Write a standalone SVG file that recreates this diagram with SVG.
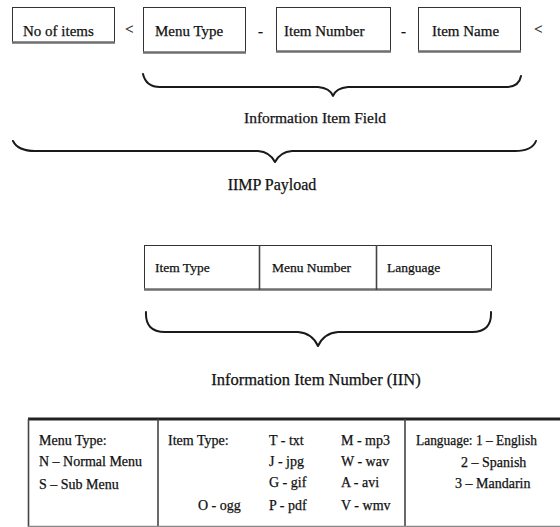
<svg xmlns="http://www.w3.org/2000/svg" width="560" height="527" viewBox="0 0 560 527">
  <style>
    text { font-family: "Liberation Serif", "Times New Roman", serif; fill: #111; stroke: #111; stroke-width: 0.25; }
    .lbl { font-size: 15px; }
    .cell { font-size: 13.5px; }
    .small { font-size: 14px; }
    .cap { font-size: 15.5px; text-anchor: middle; }
    .box { fill: #fff; stroke: #333; stroke-width: 1; }
    .shadow { stroke: #6e6e6e; stroke-width: 2.5; fill: none; }
    .brace { fill: none; stroke: #1a1a1a; stroke-width: 2; stroke-linejoin: round; stroke-linecap: round; }
    .rule { stroke: #444; stroke-width: 1.6; fill: none; }
  </style>

  <!-- IIMP payload fields -->
  <g id="no-of-items">
    <rect class="box" x="12.5" y="7.5" width="102" height="35"/>
    <line class="shadow" x1="12" y1="42.5" x2="115" y2="42.5"/>
    <text class="lbl" x="23" y="36">No of items</text>
  </g>
  <g id="sep-1"><text class="lbl" x="125" y="34">&lt;</text></g>
  <g id="menu-type">
    <rect class="box" x="143.5" y="7.5" width="102" height="45"/>
    <line class="shadow" x1="143" y1="52.5" x2="246" y2="52.5"/>
    <text class="lbl" x="155" y="36">Menu Type</text>
  </g>
  <g id="sep-2"><text class="lbl" x="258" y="36">-</text></g>
  <g id="item-number">
    <rect class="box" x="276.5" y="7.5" width="114" height="44"/>
    <line class="shadow" x1="276" y1="51.5" x2="391" y2="51.5"/>
    <text class="lbl" x="284" y="36">Item Number</text>
  </g>
  <g id="sep-3"><text class="lbl" x="401" y="36">-</text></g>
  <g id="item-name">
    <rect class="box" x="418.5" y="7.5" width="102" height="44"/>
    <line class="shadow" x1="418" y1="51.5" x2="521" y2="51.5"/>
    <text class="lbl" x="432" y="36">Item Name</text>
  </g>
  <g id="sep-4"><text class="lbl" x="534" y="34">&lt;</text></g>

  <!-- Information Item Number table -->
  <g id="iin-table">
    <rect class="box" x="144.5" y="245.5" width="347" height="44"/>
    <line class="shadow" x1="144" y1="289.5" x2="492" y2="289.5"/>
    <line class="rule" x1="259.5" y1="245" x2="259.5" y2="290"/>
    <line class="rule" x1="376.5" y1="245" x2="376.5" y2="290"/>
    <text class="cell" x="155" y="272">Item Type</text>
    <text class="cell" x="272" y="272">Menu Number</text>
    <text class="cell" x="387" y="272">Language</text>
  </g>

  <!-- Legend table -->
  <g id="legend">
    <line stroke="#222" stroke-width="3" x1="28" y1="419" x2="560" y2="419"/>
    <line class="rule" x1="28.5" y1="419" x2="28.5" y2="527"/>
    <line class="rule" x1="158" y1="419" x2="158" y2="527"/>
    <line class="rule" x1="405" y1="419" x2="405" y2="527"/>
    <line stroke="#888" stroke-width="1.5" x1="28" y1="526.5" x2="560" y2="526.5"/>
    <text class="small" x="39" y="445">Menu Type:</text>
    <text class="small" x="39" y="466">N – Normal Menu</text>
    <text class="small" x="39" y="489">S – Sub Menu</text>
    <text class="small" x="168" y="445">Item Type:</text>
    <text class="small" x="198" y="510">O - ogg</text>
    <text class="small" x="269" y="445">T - txt</text>
    <text class="small" x="269" y="466">J - jpg</text>
    <text class="small" x="269" y="487">G - gif</text>
    <text class="small" x="269" y="510">P - pdf</text>
    <text class="small" x="341" y="445">M - mp3</text>
    <text class="small" x="341" y="466">W - wav</text>
    <text class="small" x="341" y="487">A - avi</text>
    <text class="small" x="341" y="510">V - wmv</text>
    <text class="small" x="416" y="445" textLength="121" lengthAdjust="spacingAndGlyphs">Language: 1 – English</text>
    <text class="small" x="461" y="467">2 – Spanish</text>
    <text class="small" x="455" y="488">3 – Mandarin</text>
  </g>

  <!-- Braces -->
  <g id="connectors">
    <path class="brace" d="M143,74 Q146,87 160,87 L318,87 Q330,88 333,96 Q336,88 348,87 L506,87 Q519,87 521,76"/>
    <path class="brace" d="M13,141 Q18,151 35,151 L258,151 Q270,152 275,162 Q280,152 292,151 L515,151 Q532,151 536,141"/>
    <path class="brace" d="M146,312 Q145,332 165,332 L298,332 Q312,333 318,346 Q324,333 338,332 L472,332 Q492,332 491,312"/>
  </g>

  <!-- Brace captions -->
  <g id="captions">
    <text class="cap" x="315" y="123">Information Item Field</text>
    <text class="cap" x="272" y="190" style="font-size:16px">IIMP Payload</text>
    <text class="cap" x="316" y="385" style="font-size:16.5px">Information Item Number (IIN)</text>
  </g>
</svg>
